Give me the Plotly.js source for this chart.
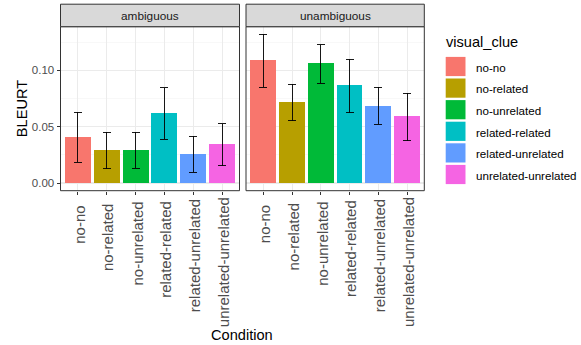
<!DOCTYPE html>
<html><head><meta charset="utf-8">
<script src="https://cdn.plot.ly/plotly-3.0.1.min.js"></script>
<style>body{margin:0;padding:0;background:#fff}#chart{width:581px;height:345px}</style>
</head><body><div id="chart"></div>
<script>
const categories = ["no-no","no-related","no-unrelated","related-related","related-unrelated","unrelated-unrelated"];
const colors = ["#F8766D","#B79F00","#00BA38","#00BFC4","#619CFF","#F564E3"];
const panels = ["ambiguous","unambiguous"];
const ambMean = [0.0411,0.0290,0.0296,0.0619,0.0255,0.0344];
const ambHi   = [0.0628,0.0450,0.0450,0.0844,0.0415,0.0527];
const ambLo   = [0.0184,0.0127,0.0130,0.0388,0.0095,0.0154];
const unaMean = [0.1090,0.0719,0.1063,0.0868,0.0687,0.0592];
const unaHi   = [0.1320,0.0876,0.1228,0.1098,0.0850,0.0797];
const unaLo   = [0.0850,0.0551,0.0885,0.0625,0.0521,0.0376];
const yTicks = [0, 0.05, 0.10];
const yTickText = ["0.00","0.05","0.10"];

const W = 581, H = 345;
const px = v => v / W, py = v => 1 - v / H;
const FONT = "Liberation Sans, Arial, sans-serif";
const XTICK_SIZE = 15;

function barTrace(mean, hi, lo, xa, ya) {
  return {
    type: "bar", x: categories, y: mean, xaxis: xa, yaxis: ya, width: 0.9,
    marker: {color: colors, line: {width: 0}},
    error_y: {type: "data", symmetric: false,
      array: mean.map((m, i) => hi[i] - m),
      arrayminus: mean.map((m, i) => m - lo[i]),
      color: "#000000", thickness: 0.9, width: 4},
    showlegend: false, hoverinfo: "skip"
  };
}

const data = [barTrace(ambMean, ambHi, ambLo, "x", "y"), barTrace(unaMean, unaHi, unaLo, "x2", "y2")];

const panelX = [[60.5, 239.5], [246, 424.3]];
const pTop = 26.7, pBot = 190.7;
const yRange = [-0.00684, 0.1388];

const xaxisBase = {
  type: "category", range: [-0.6, 5.6], showgrid: true, gridcolor: "#EBEBEB", gridwidth: 1,
  ticks: "outside", ticklen: 3, tickcolor: "#333333", tickwidth: 1,
  showticklabels: false,
  showline: false, zeroline: false, fixedrange: true
};
const yaxisBase = {
  range: yRange, domain: [py(pBot), py(pTop)], tickvals: yTicks, ticktext: yTickText,
  showgrid: true, gridcolor: "#EBEBEB", gridwidth: 1.1,
  minor: {dtick: 0.025, tick0: 0.025, showgrid: true, gridcolor: "#F3F3F3", gridwidth: 0.6, ticks: ""},
  ticks: "outside", ticklen: 3, tickcolor: "#333333", tickwidth: 1,
  tickfont: {family: FONT, size: 11.5, color: "#4D4D4D"},
  zeroline: false, showline: false, fixedrange: true
};

const layout = {
  width: W, height: H, margin: {l: 0, r: 0, t: 0, b: 0},
  paper_bgcolor: "#FFFFFF", plot_bgcolor: "#FFFFFF", showlegend: false,
  bargap: 0,
  xaxis: Object.assign({}, xaxisBase, {domain: [px(panelX[0][0]), px(panelX[0][1])], anchor: "y"}),
  xaxis2: Object.assign({}, xaxisBase, {domain: [px(panelX[1][0]), px(panelX[1][1])], anchor: "y2"}),
  yaxis: Object.assign({}, yaxisBase, {anchor: "x"}),
  yaxis2: Object.assign({}, yaxisBase, {anchor: "x2", showticklabels: false, ticks: "", matches: "y"}),
  shapes: [], annotations: []
};

// rotated x tick labels, justified like ggplot (anchor ~0.91 along the text)
const cv = document.createElement("canvas").getContext("2d");
cv.font = XTICK_SIZE + "px 'Liberation Sans', Arial, sans-serif";
const anchorY = 208.3, hFrac = 0.087;
["x", "x2"].forEach(xa => {
  categories.forEach(c => {
    const L = cv.measureText(c).width;
    layout.annotations.push({text: c, xref: xa, yref: "paper", x: c, y: py(anchorY - hFrac * L - 1.5),
      textangle: -90, xanchor: "center", yanchor: "top", xshift: 1.5, showarrow: false,
      font: {family: FONT, size: XTICK_SIZE, color: "#4D4D4D"}});
  });
});

panels.forEach((name, i) => {
  const [x0, x1] = panelX[i];
  layout.shapes.push({type: "rect", xref: "paper", yref: "paper", x0: px(x0), x1: px(x1), y0: py(pBot), y1: py(pTop),
    line: {color: "#333333", width: 1}, fillcolor: "rgba(0,0,0,0)", layer: "above"});
  layout.shapes.push({type: "rect", xref: "paper", yref: "paper", x0: px(x0), x1: px(x1), y0: py(pTop), y1: py(4.2),
    line: {color: "#333333", width: 1}, fillcolor: "#D9D9D9", layer: "above"});
  layout.annotations.push({text: name, xref: "paper", yref: "paper", x: px((x0 + x1) / 2), y: py(15.5),
    xanchor: "center", yanchor: "middle", showarrow: false, font: {family: FONT, size: 11.8, color: "#1A1A1A"}});
});

layout.annotations.push({text: "BLEURT", xref: "paper", yref: "paper", x: px(21.5), y: py((pTop + pBot) / 2),
  textangle: -90, xanchor: "center", yanchor: "middle", showarrow: false, font: {family: FONT, size: 14.6, color: "#000000"}});
layout.annotations.push({text: "Condition", xref: "paper", yref: "paper", x: px(242.4), y: py(335),
  xanchor: "center", yanchor: "middle", showarrow: false, font: {family: FONT, size: 14.6, color: "#000000"}});

// legend
layout.annotations.push({text: "visual_clue", xref: "paper", yref: "paper", x: px(443.5), y: py(41.7),
  xanchor: "left", yanchor: "middle", showarrow: false, font: {family: FONT, size: 14.6, color: "#000000"}});
categories.forEach((c, i) => {
  const cy = 66.5 + i * 21.6;
  layout.shapes.push({type: "rect", xref: "paper", yref: "paper", x0: px(445.7), x1: px(465.5),
    y0: py(cy + 9.6), y1: py(cy - 9.6), line: {width: 0}, fillcolor: colors[i]});
  layout.annotations.push({text: c, xref: "paper", yref: "paper", x: px(473.5), y: py(cy + 0.8),
    xanchor: "left", yanchor: "middle", showarrow: false, font: {family: FONT, size: 11.6, color: "#000000"}});
});

Plotly.newPlot("chart", data, layout, {displayModeBar: false, staticPlot: true});
</script></body></html>
